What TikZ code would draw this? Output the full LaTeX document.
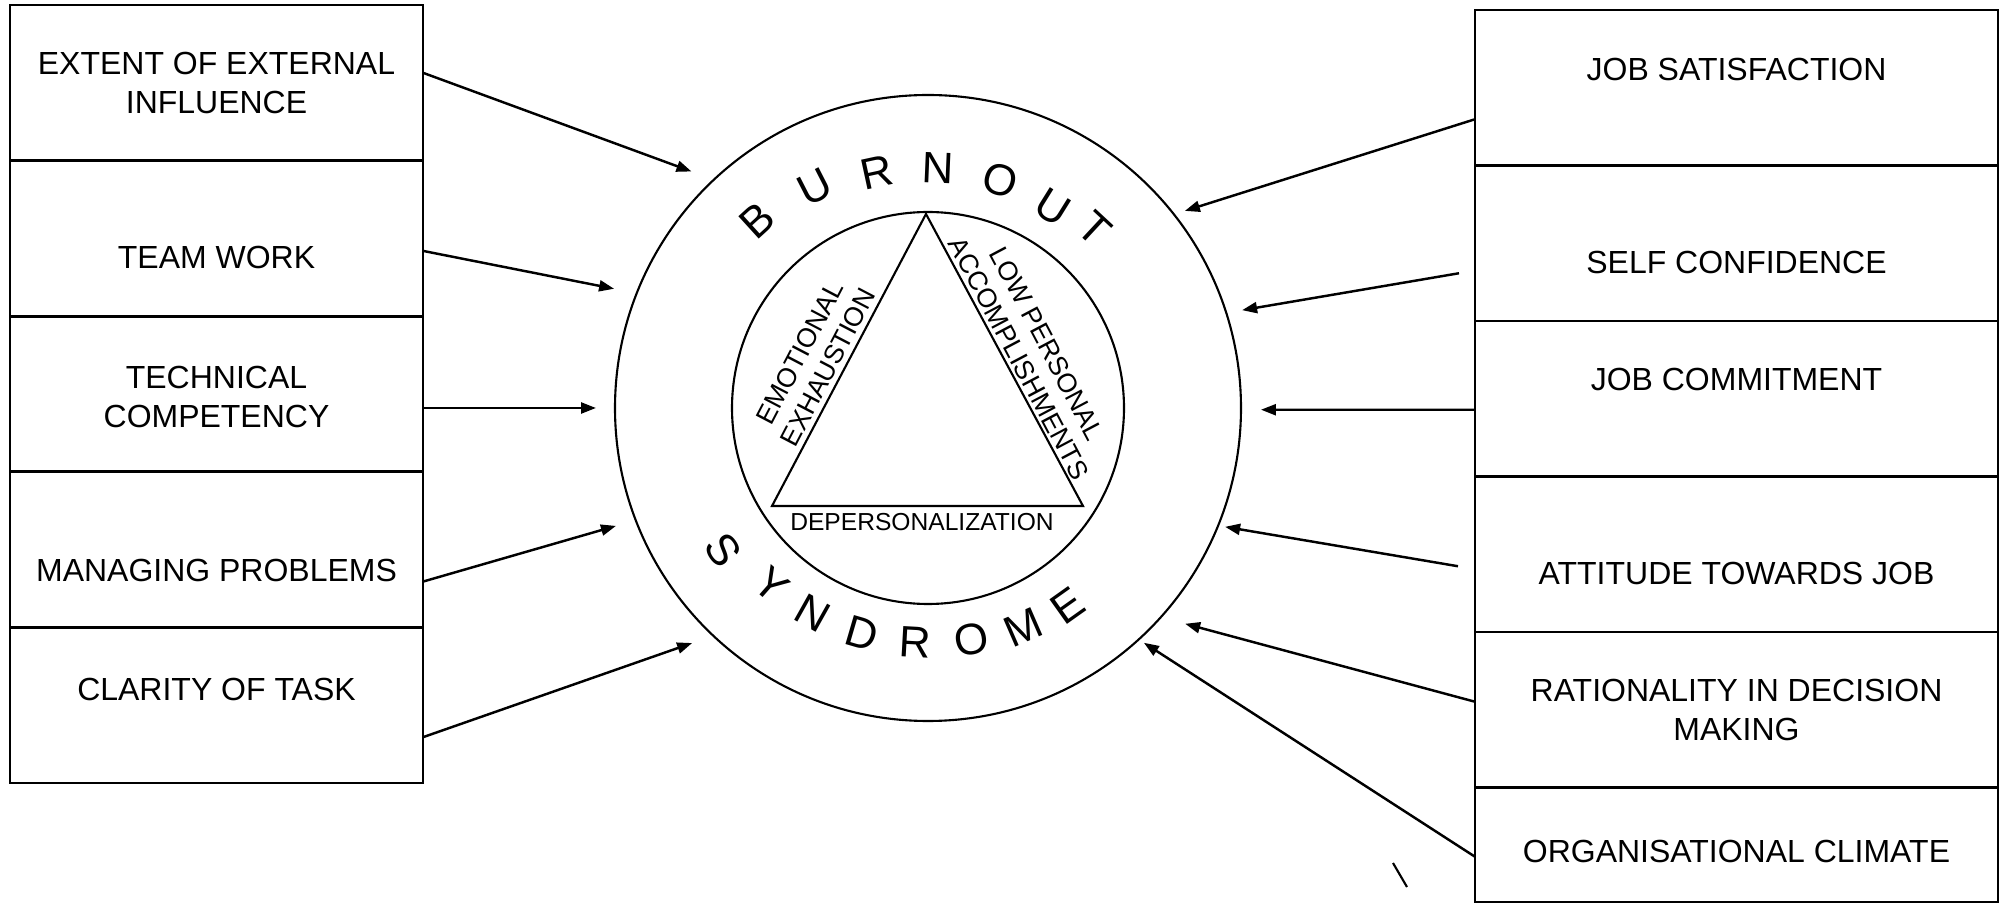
\documentclass[tikz,border=0pt]{standalone}
\usepackage{fontspec}
\setmainfont{Liberation Sans}
\usetikzlibrary{arrows.meta, positioning}

\begin{document}
\begin{tikzpicture}[
  lbox/.style={draw, line width=0.8pt, minimum width=4.13cm, minimum height=1.556cm,
               inner sep=0pt, outer sep=0pt},
  rbox/.style={draw, line width=0.8pt, minimum width=5.23cm, minimum height=1.555cm,
               inner sep=0pt, outer sep=0pt},
  lbl/.style={font=\fontsize{9.1}{11}\selectfont, align=center},
  side/.style={font=\fontsize{7.6}{9}\selectfont, align=center, inner sep=0pt},
  ring/.style={draw, circle, line width=0.6pt, inner sep=0pt, outer sep=0pt},
  arr/.style={-{Triangle[length=1.5mm, width=1.1mm]}, line width=0.7pt},
  letter/.style={font=\fontsize{12.5}{12.5}\selectfont, inner sep=0pt},
]
\useasboundingbox (0,0) rectangle (20.08,-9.04);

% left column of factors
\node[lbox, anchor=north west] (lb1) at (0.10,-0.05) {};
\node[lbox, below=0pt of lb1] (lb2) {};
\node[lbox, below=0pt of lb2] (lb3) {};
\node[lbox, below=0pt of lb3] (lb4) {};
\node[lbox, below=0pt of lb4] (lb5) {};

\node[lbl] (t-ext)   at (lb1.center) {EXTENT OF EXTERNAL\\INFLUENCE};
\node[lbl] (t-team)  at ([yshift=-0.195cm]lb2.center) {TEAM WORK};
\node[lbl] (t-tech)  at ([yshift=-0.03cm]lb3.center) {TECHNICAL\\COMPETENCY};
\node[lbl] (t-prob)  at ([yshift=-0.21cm]lb4.center) {MANAGING PROBLEMS};
\node[lbl] (t-task)  at ([yshift=0.16cm]lb5.center) {CLARITY OF TASK};

% right column of factors
\node[rbox, anchor=north west] (rb1) at (14.75,-0.10) {};
\node[rbox, below=0pt of rb1] (rb2) {};
\node[rbox, below=0pt of rb2] (rb3) {};
\node[rbox, below=0pt of rb3] (rb4) {};
\node[rbox, below=0pt of rb4] (rb5) {};
\node[rbox, below=0pt of rb5, minimum height=1.145cm] (rb6) {};

\node[lbl] (t-sat)   at ([yshift=0.185cm]rb1.center) {JOB SATISFACTION};
\node[lbl] (t-conf)  at ([yshift=-0.19cm]rb2.center) {SELF CONFIDENCE};
\node[lbl] (t-comm)  at ([yshift=0.19cm]rb3.center) {JOB COMMITMENT};
\node[lbl] (t-att)   at ([yshift=-0.19cm]rb4.center) {ATTITUDE TOWARDS JOB};
\node[lbl] (t-rat)   at (rb5.center) {RATIONALITY IN DECISION\\MAKING};
\node[lbl] (t-clim)  at ([yshift=-0.07cm]rb6.center) {ORGANISATIONAL CLIMATE};

% burnout rings and triangle
\node[ring, minimum size=6.26cm] (burn) at (9.28,-4.08) {};
\node[ring, minimum size=3.92cm] (core) at (burn.center) {};

\coordinate (apex) at (9.26,-2.14);
\coordinate (bl)   at (7.72,-5.06);
\coordinate (br)   at (10.83,-5.06);
\draw[line width=0.6pt] (apex) -- (bl) -- (br) -- cycle;

\node[side, rotate=62.4]  (emo) at (8.14,-3.60) {EMOTIONAL\\EXHAUSTION};
\node[side, rotate=-62.1] (low) at (10.33,-3.51) {LOW PERSONAL\\ACCOMPLISHMENTS};
\node[side, font=\fontsize{7}{9}\selectfont] (dep) at (9.22,-5.22) {DEPERSONALIZATION};

\foreach \ang/\rad/\ch [count=\i] in {132.3/2.54/B, 117.1/2.48/U, 102.2/2.41/R, 87.6/2.40/N,
                                      72.5/2.39/O, 58.1/2.37/U, 47.1/2.45/T}
  \node[letter, rotate=\ang-90] (bo\i) at ([shift={(\ang:\rad)}]burn.center) {\ch};

\foreach \ang/\rad/\ch [count=\i] in {214.7/2.49/S, 228.6/2.36/Y, 240.7/2.35/N, 253.7/2.345/D,
                                      266.8/2.35/R, 280.7/2.36/O, 293.5/2.39/M, 305.4/2.42/E}
  \node[letter, rotate=\ang+90] (sy\i) at ([shift={(\ang:\rad)}]burn.center) {\ch};

% arrow tips round the ring
\coordinate (tip-ext)  at ([shift={(135:3.345)}]burn.center);
\coordinate (tip-team) at ([shift={(159.2:3.358)}]burn.center);
\coordinate (tip-tech) at ([shift={(180:3.32)}]burn.center);
\coordinate (tip-prob) at ([shift={(200.7:3.336)}]burn.center);
\coordinate (tip-task) at ([shift={(224.9:3.33)}]burn.center);
\coordinate (tip-sat)  at ([shift={(37.5:3.238)}]burn.center);
\coordinate (tip-conf) at ([shift={(17.3:3.29)}]burn.center);
\coordinate (tip-comm) at ([shift={(-0.3:3.33)}]burn.center);
\coordinate (tip-att)  at ([shift={(-21.8:3.20)}]burn.center);
\coordinate (tip-rat)  at ([shift={(-40:3.357)}]burn.center);
\coordinate (tip-clim) at ([shift={(-47.4:3.19)}]burn.center);

\draw[arr] ([yshift=0.10cm]lb1.east)  -- (tip-ext);
\draw[arr] ([yshift=-0.125cm]lb2.east) -- (tip-team);
\draw[arr] ([yshift=-0.14cm]lb3.east) -- (tip-tech);
\draw[arr] ([yshift=-0.32cm]lb4.east) -- (tip-prob);
\draw[arr] ([yshift=-0.32cm]lb5.east) -- (tip-task);

\draw[arr] ([yshift=-0.315cm]rb1.west) -- (tip-sat);
\draw[arr] ([shift={(-0.16,-0.30)}]rb2.west) -- (tip-conf);
\draw[arr] ([yshift=-0.11cm]rb3.west) -- (tip-comm);
\draw[arr] ([shift={(-0.17,-0.12)}]rb4.west) -- (tip-att);
\draw[arr] ([yshift=0.08cm]rb5.west) -- (tip-rat);
\draw[arr] ([yshift=-0.12cm]rb6.west) -- (tip-clim);

\draw[line width=0.6pt] (13.93,-8.63) -- (14.07,-8.87);
\end{tikzpicture}
\end{document}
